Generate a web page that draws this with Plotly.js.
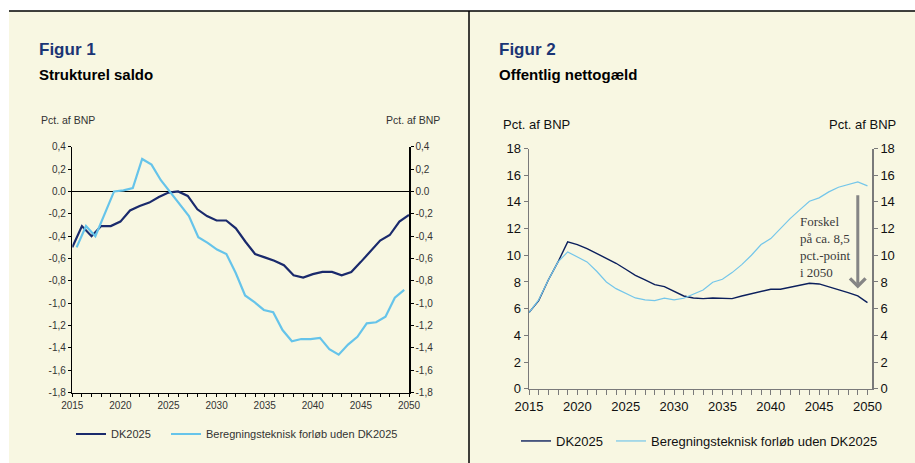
<!DOCTYPE html>
<html>
<head>
<meta charset="utf-8">
<script src="https://cdn.plot.ly/plotly-3.0.1.min.js"></script>
<style>
  html, body { margin: 0; padding: 0; background: #ffffff; }
  #chart { width: 915px; height: 463px; }
</style>
</head>
<body>
<div id="chart"></div>
<script>
// ---------- Data ----------
const years = [2015,2016,2017,2018,2019,2020,2021,2022,2023,2024,2025,2026,2027,2028,2029,2030,2031,2032,2033,2034,2035,2036,2037,2038,2039,2040,2041,2042,2043,2044,2045,2046,2047,2048,2049,2050];

// Figur 1: Strukturel saldo (pct. af BNP)
const saldoDK2025 = [-0.50,-0.31,-0.40,-0.31,-0.31,-0.27,-0.17,-0.13,-0.10,-0.05,-0.01,0.00,-0.04,-0.16,-0.22,-0.26,-0.26,-0.33,-0.45,-0.56,-0.59,-0.62,-0.66,-0.75,-0.77,-0.74,-0.72,-0.72,-0.75,-0.72,-0.63,-0.53,-0.44,-0.39,-0.27,-0.21];
const saldoUden = [-0.50,-0.31,-0.40,-0.20,0.00,0.01,0.03,0.29,0.24,0.10,-0.01,-0.11,-0.22,-0.41,-0.46,-0.52,-0.56,-0.73,-0.93,-0.99,-1.06,-1.08,-1.24,-1.34,-1.32,-1.32,-1.31,-1.41,-1.46,-1.37,-1.30,-1.18,-1.17,-1.12,-0.95,-0.88];

// Figur 2: Offentlig nettogæld (pct. af BNP)
const gaeldDK2025 = [5.7,6.6,8.15,9.5,11.0,10.8,10.5,10.15,9.8,9.4,8.95,8.5,8.15,7.8,7.65,7.3,6.95,6.8,6.75,6.8,6.8,6.75,6.95,7.1,7.3,7.45,7.45,7.6,7.75,7.9,7.85,7.65,7.45,7.2,6.95,6.45];
const gaeldUden = [5.7,6.65,8.15,9.5,10.25,9.9,9.5,8.8,8.0,7.5,7.15,6.8,6.65,6.6,6.78,6.65,6.78,7.08,7.4,7.98,8.2,8.7,9.3,10.0,10.8,11.25,12.0,12.75,13.4,14.05,14.3,14.75,15.1,15.3,15.5,15.2];

// Tick labels
const xTickVals = [2015,2020,2025,2030,2035,2040,2045,2050];
const xTickText = ["2015","2020","2025","2030","2035","2040","2045","2050"];
const y1TickVals = [-1.8,-1.6,-1.4,-1.2,-1.0,-0.8,-0.6,-0.4,-0.2,0.0,0.2,0.4];
const y1TickText = ["-1,8","-1,6","-1,4","-1,2","-1,0","-0,8","-0,6","-0,4","-0,2","0.0","0,2","0,4"];
const y2TickVals = [0,2,4,6,8,10,12,14,16,18];

const seriesNames = ["DK2025", "Beregningsteknisk forløb uden DK2025"];
const annotationText = "Forskel<br>på ca. 8,5<br>pct.-point<br>i 2050";
const arrowYear = 2049, arrowFrom = 14.6, arrowTo = 7.5;

// ---------- Styling ----------
const W = 915, H = 463;
const px = v => v / W;
const py = v => 1 - v / H;
const FONT = "Liberation Sans, Arial, sans-serif";
const cream = "#f8f7e2";
const navyL = "#1a2a6c", lightL = "#66c4ea";
const navyR = "#0b1f5c", lightR = "#74c6ea";
const gray = "#7a7a7a";

const traces = [
  { x: years, y: saldoDK2025, xaxis: "x", yaxis: "y", mode: "lines", name: seriesNames[0],
    line: { color: navyL, width: 2.2 }, legend: "legend" },
  { x: years, y: saldoUden, xaxis: "x2", yaxis: "y", mode: "lines", name: seriesNames[1],
    line: { color: lightL, width: 2.2 }, legend: "legend2" },
  // invisible carrier for the right-hand axis of figure 1
  { x: years, y: saldoDK2025, xaxis: "x", yaxis: "y2", mode: "lines", showlegend: false,
    line: { color: "rgba(0,0,0,0)", width: 0 }, hoverinfo: "skip" },
  { x: years, y: gaeldDK2025, xaxis: "x3", yaxis: "y3", mode: "lines", name: seriesNames[0],
    line: { color: navyR, width: 1.4 }, legend: "legend3" },
  { x: years, y: gaeldUden, xaxis: "x3", yaxis: "y3", mode: "lines", name: seriesNames[1],
    line: { color: lightR, width: 1.2 }, legend: "legend4" },
  { x: years, y: gaeldDK2025, xaxis: "x3", yaxis: "y4", mode: "lines", showlegend: false,
    line: { color: "rgba(0,0,0,0)", width: 0 }, hoverinfo: "skip" }
];

const leftAxisY = {
  range: [-1.8, 0.4], tickvals: y1TickVals, ticktext: y1TickText,
  ticks: "outside", ticklen: 3, tickwidth: 1, tickcolor: "#000",
  showline: true, linecolor: "#000", linewidth: 1.5, showgrid: false,
  tickfont: { family: FONT, size: 10, color: "#333" }, fixedrange: true
};
const rightAxisY = {
  range: [0, 18], tickvals: y2TickVals,
  ticks: "outside", ticklen: 4, tickwidth: 1, tickcolor: gray,
  showline: true, linecolor: gray, linewidth: 1.5, showgrid: false, zeroline: false,
  tickfont: { family: FONT, size: 13, color: "#111" }, fixedrange: true
};

function legendAt(xPix, yPix, size, color) {
  return {
    orientation: "h", x: px(xPix), xanchor: "left", y: py(yPix), yanchor: "middle",
    font: { family: FONT, size: size, color: color }, bgcolor: "rgba(0,0,0,0)",
    itemclick: false, itemdoubleclick: false
  };
}

const layout = {
  width: W, height: H,
  margin: { l: 0, r: 0, t: 0, b: 0 },
  paper_bgcolor: "#ffffff", plot_bgcolor: "rgba(0,0,0,0)",
  font: { family: FONT },
  showlegend: true,
  xaxis: {
    domain: [px(72.3), px(409)], range: [2015, 2050], anchor: "y",
    tickvals: xTickVals, ticktext: xTickText,
    ticks: "outside", ticklen: 3, tickcolor: "#000",
    minor: { dtick: 1, tick0: 2015, ticks: "outside", ticklen: 3, tickcolor: "#000", showgrid: false },
    showline: true, linecolor: "#000", linewidth: 1.5, showgrid: false, zeroline: false,
    tickfont: { family: FONT, size: 10, color: "#333" }, fixedrange: true
  },
  xaxis2: {
    overlaying: "x", anchor: "y", range: [2014.537, 2050.513], visible: false, fixedrange: true
  },
  yaxis: Object.assign({}, leftAxisY, {
    domain: [py(392.7), py(146.7)], anchor: "x",
    zeroline: true, zerolinecolor: "#000", zerolinewidth: 1.2
  }),
  yaxis2: Object.assign({}, leftAxisY, {
    overlaying: "y", side: "right", anchor: "x", zeroline: false
  }),
  xaxis3: {
    domain: [px(529), px(872.3)], range: [2015, 2050.5], anchor: "y3",
    tickvals: xTickVals, ticktext: xTickText,
    ticks: "outside", ticklen: 5, tickcolor: gray,
    minor: { dtick: 1, tick0: 2015, ticks: "outside", ticklen: 5, tickcolor: gray, showgrid: false },
    showline: true, linecolor: gray, linewidth: 1.5, showgrid: false, zeroline: false,
    tickfont: { family: FONT, size: 13, color: "#111" }, fixedrange: true
  },
  yaxis3: Object.assign({}, rightAxisY, { domain: [py(388.7), py(148.5)], anchor: "x3" }),
  yaxis4: Object.assign({}, rightAxisY, { overlaying: "y3", side: "right", anchor: "x3" }),
  legend: legendAt(71, 434, 11, "#333"),
  legend2: legendAt(166, 434, 11, "#333"),
  legend3: legendAt(516, 441, 13, "#111"),
  legend4: legendAt(611, 441, 13, "#111"),
  shapes: [
    { type: "rect", xref: "paper", yref: "paper", x0: px(9), x1: px(469), y0: 0, y1: py(11), fillcolor: cream, line: { width: 0 }, layer: "below" },
    { type: "rect", xref: "paper", yref: "paper", x0: px(469), x1: 1, y0: 0, y1: py(11), fillcolor: cream, line: { width: 0 }, layer: "below" },
    { type: "line", xref: "paper", yref: "paper", x0: px(9), x1: 1, y0: py(11), y1: py(11), line: { color: "#000", width: 1.5 } },
    { type: "line", xref: "paper", yref: "paper", x0: px(469), x1: px(469), y0: 0, y1: py(11), line: { color: "#000", width: 1.5 } }
  ],
  annotations: [
    { text: "<b>Figur 1</b>", xref: "paper", yref: "paper", x: px(37), y: py(50), xanchor: "left", yanchor: "middle", showarrow: false, font: { family: FONT, size: 17, color: "#1b3575" } },
    { text: "<b>Strukturel saldo</b>", xref: "paper", yref: "paper", x: px(37), y: py(75), xanchor: "left", yanchor: "middle", showarrow: false, font: { family: FONT, size: 15, color: "#000" } },
    { text: "<b>Figur 2</b>", xref: "paper", yref: "paper", x: px(497), y: py(50), xanchor: "left", yanchor: "middle", showarrow: false, font: { family: FONT, size: 17, color: "#1b3575" } },
    { text: "<b>Offentlig nettogæld</b>", xref: "paper", yref: "paper", x: px(497), y: py(75), xanchor: "left", yanchor: "middle", showarrow: false, font: { family: FONT, size: 15, color: "#000" } },
    { text: "Pct. af BNP", xref: "paper", yref: "paper", x: px(39), y: py(120), xanchor: "left", yanchor: "middle", showarrow: false, font: { family: FONT, size: 10.5, color: "#333" } },
    { text: "Pct. af BNP", xref: "paper", yref: "paper", x: px(442), y: py(120), xanchor: "right", yanchor: "middle", showarrow: false, font: { family: FONT, size: 10.5, color: "#333" } },
    { text: "Pct. af BNP", xref: "paper", yref: "paper", x: px(501), y: py(124), xanchor: "left", yanchor: "middle", showarrow: false, font: { family: FONT, size: 13, color: "#111" } },
    { text: "Pct. af BNP", xref: "paper", yref: "paper", x: px(898), y: py(124), xanchor: "right", yanchor: "middle", showarrow: false, font: { family: FONT, size: 13, color: "#111" } },
    { text: annotationText, xref: "paper", yref: "paper", x: px(798), y: py(212), xanchor: "left", yanchor: "top", align: "left", showarrow: false, font: { family: "Liberation Serif, Times New Roman, serif", size: 13, color: "#3a3a3a" } },
    { text: "", xref: "x3", yref: "y3", x: arrowYear, y: arrowTo, axref: "x3", ayref: "y3", ax: arrowYear, ay: arrowFrom,
      showarrow: true, arrowhead: 4, arrowsize: 1, arrowwidth: 3, arrowcolor: "#858585" }
  ]
};

Plotly.newPlot("chart", traces, layout, { staticPlot: true, displayModeBar: false });
</script>
</body>
</html>
